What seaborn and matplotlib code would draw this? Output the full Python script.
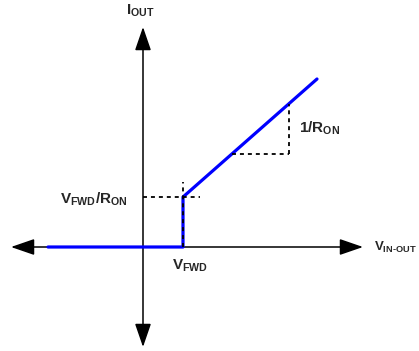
import matplotlib
matplotlib.use("Agg")
import matplotlib.pyplot as plt
import seaborn as sns
import pandas as pd

sns.set_theme(style="white")
plt.rcParams['font.family'] = ['Liberation Sans', 'DejaVu Sans']
plt.rcParams['mathtext.fontset'] = 'custom'
plt.rcParams['mathtext.rm'] = 'Liberation Sans:bold'
plt.rcParams['mathtext.it'] = 'Liberation Sans:bold'
plt.rcParams['mathtext.bf'] = 'Liberation Sans:bold'
plt.rcParams['mathtext.default'] = 'bf'

# I-V characteristic (arbitrary units, origin at axes crossing)
v_curve = [-95, 40, 40, 174]
i_curve = [0, 0, 50, 168]

# axis extents
x_axis = [-132, 220]
y_axis = [-100, 220]

# guide lines
v_fwd = 40
i_fwd = 50
guide_h_x = [0, 57]
guide_v_y = [0, 65]
tri_x = [89, 146]
slope = (i_curve[3] - i_curve[2]) / (v_curve[3] - v_curve[2])
tri_y = [i_fwd + slope * (tri_x[0] - v_fwd), i_fwd + slope * (tri_x[1] - v_fwd)]

fig = plt.figure(figsize=(4.19, 3.51), dpi=100)
ax = fig.add_axes([0, 0, 1, 1])
ax.set_xlim(-143, 276)
ax.set_ylim(-104, 247)
ax.axis('off')

arrow = dict(arrowstyle='<|-|>,head_length=1.45,head_width=0.5', color='black',
             lw=1.1, shrinkA=0, shrinkB=0, mutation_scale=10)
ax.annotate('', xy=(x_axis[1], 0), xytext=(x_axis[0], 0), arrowprops=arrow)
ax.annotate('', xy=(0, y_axis[1]), xytext=(0, y_axis[0]), arrowprops=arrow)

df = pd.DataFrame({'V': v_curve, 'I': i_curve})
sns.lineplot(data=df, x='V', y='I', sort=False, estimator=None, color='#0000FF',
             lw=2.3, ax=ax, zorder=5)

dash = dict(color='black', lw=1.3, ls=(0, (2.2, 2.2)), zorder=6)
ax.plot(guide_h_x, [i_fwd, i_fwd], **dash)
ax.plot([v_fwd, v_fwd], guide_v_y, **dash)
ax.plot([tri_x[1], tri_x[1]], [tri_y[0], tri_y[1]], **dash)
ax.plot([tri_x[0], tri_x[1]], [tri_y[0], tri_y[0]], **dash)

fs = 11
ax.text(-3, 232, r'$\mathbf{I_{OUT}}$', fontsize=fs, ha='center', va='baseline')
ax.text(-15, 43, r'$\mathbf{V_{FWD}/R_{ON}}$', fontsize=fs, ha='right', va='baseline')
ax.text(v_fwd + 7, -23, r'$\mathbf{V_{FWD}}$', fontsize=fs, ha='center', va='baseline')
ax.text(tri_x[1] + 10, 114, r'$\mathbf{1/R_{ON}}$', fontsize=fs, ha='left', va='baseline')
ax.text(x_axis[1] + 11, -4, r'$\mathbf{V_{IN\text{-}OUT}}$', fontsize=9.5, ha='left', va='baseline')

fig.savefig('out.png', dpi=100)
